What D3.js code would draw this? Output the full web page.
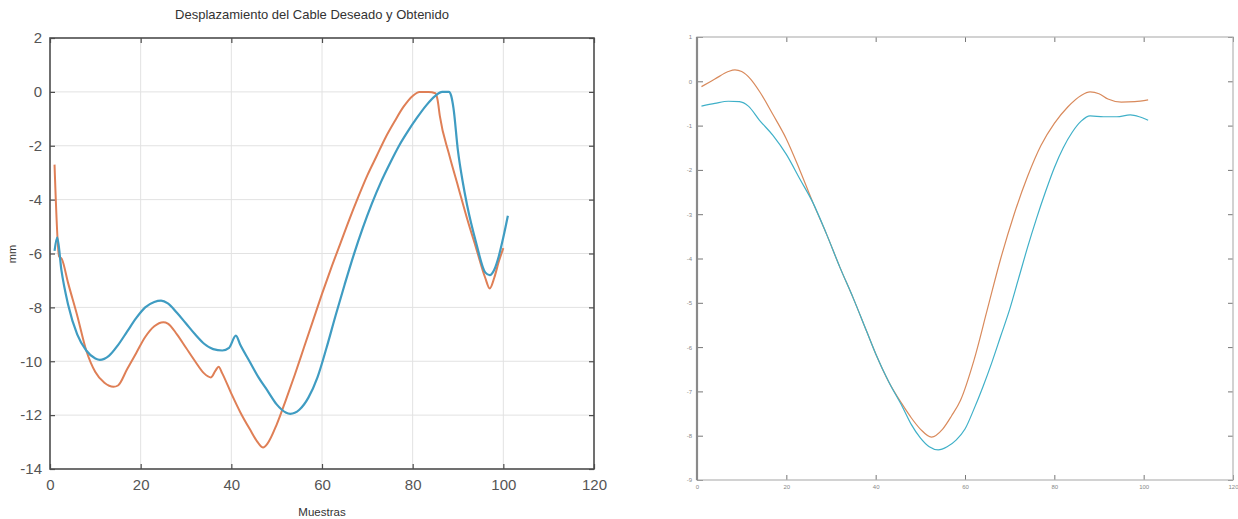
<!DOCTYPE html>
<html>
<head>
<meta charset="utf-8">
<script src="https://cdn.jsdelivr.net/npm/d3@7"></script>
<style>
  html, body { margin: 0; padding: 0; background: #fff; }
  svg { display: block; font-family: "Liberation Sans", Arial, sans-serif; }
</style>
</head>
<body>
<svg id="chart" width="1238" height="519"></svg>
<script>
// ---------- Left panel data ----------
const leftTitle = "Desplazamiento del Cable Deseado y Obtenido";
const leftXLabel = "Muestras";
const leftYLabel = "mm";
const leftXTicks = [0, 20, 40, 60, 80, 100, 120];
const leftYTicks = [2, 0, -2, -4, -6, -8, -10, -12, -14];

// Desired (orange)
const leftOrangeX = [1, 2, 2.6, 4, 6, 8, 10, 12, 14, 15, 17, 19, 21, 23, 25, 26, 28, 30, 32, 34, 35.5, 36.5, 37.2, 38, 40, 42, 44, 46, 47, 48, 50, 52, 54, 56, 58, 60, 62, 64, 66, 68, 70, 72, 74, 76, 78, 80, 81.5, 83.5, 85, 85.5, 86, 88, 90, 92, 94, 96, 97, 98, 99, 100];
const leftOrangeY = [-2.7, -6.1, -6.2, -7.1, -8.3, -9.6, -10.4, -10.8, -10.95, -10.9, -10.3, -9.7, -9.1, -8.7, -8.55, -8.6, -9.0, -9.5, -10.0, -10.45, -10.6, -10.35, -10.2, -10.45, -11.2, -11.9, -12.5, -13.05, -13.2, -13.05, -12.35, -11.45, -10.5, -9.5, -8.5, -7.5, -6.55, -5.65, -4.75, -3.9, -3.1, -2.4, -1.7, -1.1, -0.55, -0.15, 0, 0, -0.05, -0.3, -0.9, -2.3, -3.5, -4.7, -5.8, -6.9, -7.3, -6.9, -6.3, -5.8];

// Obtained (blue)
const leftBlueX = [1, 1.6, 2.5, 4, 6, 8, 10, 11, 13, 15, 17, 19, 21, 23, 24.5, 26, 28, 30, 32, 34, 36, 38, 39.5, 41, 42, 44, 46, 48, 50, 52, 53, 55, 57, 59, 61, 63, 65, 67, 69, 71, 73, 75, 77, 79, 81, 83, 85, 86.5, 88, 88.5, 89, 90, 91, 92, 94, 96, 97, 98, 99, 100, 101];
const leftBlueY = [-5.9, -5.4, -6.6, -7.9, -9.0, -9.6, -9.9, -9.95, -9.8, -9.4, -8.9, -8.4, -8.0, -7.8, -7.75, -7.85, -8.2, -8.6, -9.0, -9.35, -9.55, -9.6, -9.5, -9.05, -9.4, -10.0, -10.6, -11.1, -11.6, -11.9, -11.95, -11.8, -11.35, -10.6, -9.5, -8.3, -7.15, -6.05, -5.05, -4.15, -3.35, -2.65, -2.0, -1.45, -0.95, -0.5, -0.15, 0, 0, -0.15, -0.6, -2.2, -3.3, -4.2, -5.6, -6.7, -6.8, -6.6, -6.1, -5.4, -4.6];

// ---------- Right panel data ----------
const rightXTicks = [0, 20, 40, 60, 80, 100, 120];
const rightYTicks = [1, 0, -1, -2, -3, -4, -5, -6, -7, -8, -9];

const rightOrangeX = [1, 4, 7, 8.5, 10, 12, 14, 17, 20, 23, 26, 29, 32, 35, 38, 40, 43, 46, 48, 50, 52.5, 55, 57, 59, 62, 65, 68, 71, 74, 77, 80, 83, 86, 88, 90, 92, 95, 98, 101];
const rightOrangeY = [-0.12, 0.05, 0.22, 0.26, 0.22, 0.05, -0.23, -0.75, -1.3, -2.0, -2.75, -3.45, -4.2, -4.9, -5.65, -6.15, -6.8, -7.3, -7.6, -7.85, -8.03, -7.85, -7.55, -7.2, -6.3, -5.15, -4.0, -3.0, -2.15, -1.45, -0.95, -0.58, -0.32, -0.24, -0.28, -0.4, -0.47, -0.46, -0.42];

const rightBlueX = [1, 4, 7, 9.5, 11.5, 14, 17, 20, 23, 26, 29, 32, 35, 38, 40, 43, 46, 48, 50, 52, 54, 56, 58, 60, 62, 64, 66, 68, 70, 72, 74, 76, 78, 80, 82, 84, 86, 88, 91, 94, 97, 99, 101];
const rightBlueY = [-0.56, -0.5, -0.45, -0.46, -0.56, -0.88, -1.22, -1.65, -2.2, -2.75, -3.45, -4.2, -4.9, -5.65, -6.15, -6.8, -7.35, -7.75, -8.05, -8.25, -8.32, -8.25, -8.1, -7.85, -7.4, -6.9, -6.35, -5.75, -5.15, -4.45, -3.75, -3.1, -2.5, -1.95, -1.5, -1.15, -0.9, -0.78, -0.8, -0.8, -0.76, -0.8, -0.88];

// ---------- Drawing ----------
const svg = d3.select("#chart");
const zip = (xs, ys) => xs.map((x, i) => [x, ys[i]]);
const plain = d => String(d);

// Left panel
(function () {
  const L = { left: 50, right: 594, top: 38, bottom: 469 };
  const x = d3.scaleLinear().domain([0, 120]).range([L.left, L.right]);
  const y = d3.scaleLinear().domain([-14, 2]).range([L.bottom, L.top]);
  const g = svg.append("g");
  const axisColor = "#4d4d4d";

  // grid
  g.append("g").selectAll("line").data(leftXTicks.slice(1, -1)).join("line")
    .attr("x1", d => x(d)).attr("x2", d => x(d)).attr("y1", L.top).attr("y2", L.bottom)
    .attr("stroke", "#e2e2e2").attr("stroke-width", 1);
  g.append("g").selectAll("line").data(leftYTicks.slice(1, -1)).join("line")
    .attr("y1", d => y(d)).attr("y2", d => y(d)).attr("x1", L.left).attr("x2", L.right)
    .attr("stroke", "#e2e2e2").attr("stroke-width", 1);

  // axes with inward ticks
  const xAxisB = d3.axisBottom(x).tickValues(leftXTicks).tickSize(-5).tickPadding(10).tickFormat(plain);
  const xAxisT = d3.axisTop(x).tickValues(leftXTicks).tickSize(-5).tickFormat("");
  const yAxisL = d3.axisLeft(y).tickValues(leftYTicks).tickSize(-5).tickPadding(8).tickFormat(plain);
  const yAxisR = d3.axisRight(y).tickValues(leftYTicks).tickSize(-5).tickFormat("");

  const style = sel => {
    sel.selectAll("path.domain").remove();
    sel.selectAll(".tick line").attr("stroke", axisColor).attr("stroke-width", 1.2);
    sel.selectAll(".tick text").attr("fill", "#555").style("font-size", "15px")
      .style("font-family", "'Liberation Sans', Arial, sans-serif");
  };
  g.append("g").attr("transform", `translate(0,${L.bottom})`).call(xAxisB).call(style);
  g.append("g").attr("transform", `translate(0,${L.top})`).call(xAxisT).call(style);
  g.append("g").attr("transform", `translate(${L.left},0)`).call(yAxisL).call(style);
  g.append("g").attr("transform", `translate(${L.right},0)`).call(yAxisR).call(style);
  g.append("rect").attr("x", L.left).attr("y", L.top).attr("width", L.right - L.left).attr("height", L.bottom - L.top)
    .attr("fill", "none").attr("stroke", axisColor).attr("stroke-width", 1.6);

  const line = d3.line().x(d => x(d[0])).y(d => y(d[1])).curve(d3.curveMonotoneX);
  g.append("path").datum(zip(leftOrangeX, leftOrangeY)).attr("d", line)
    .attr("fill", "none").attr("stroke", "#df7f56").attr("stroke-width", 2);
  g.append("path").datum(zip(leftBlueX, leftBlueY)).attr("d", line)
    .attr("fill", "none").attr("stroke", "#3f9cc2").attr("stroke-width", 2.2);

  g.append("text").attr("x", 312).attr("y", 19).attr("text-anchor", "middle")
    .style("font-size", "13px").attr("fill", "#333").text(leftTitle);
  g.append("text").attr("x", 322).attr("y", 516).attr("text-anchor", "middle")
    .style("font-size", "11.5px").attr("fill", "#333").text(leftXLabel);
  g.append("text").attr("transform", "translate(16,254) rotate(-90)").attr("text-anchor", "middle")
    .style("font-size", "11px").attr("fill", "#333").text(leftYLabel);
})();

// Right panel
(function () {
  const R = { left: 697, right: 1233, top: 37, bottom: 480 };
  const x = d3.scaleLinear().domain([0, 120]).range([R.left, R.right]);
  const y = d3.scaleLinear().domain([-9, 1]).range([R.bottom, R.top]);
  const g = svg.append("g");
  const axisColor = "#8a8a8a";

  const style = sel => {
    sel.selectAll("path.domain").remove();
    sel.selectAll(".tick line").attr("stroke", "#777").attr("stroke-width", 1);
    sel.selectAll(".tick text").attr("fill", "#888").style("font-size", "6px");
  };
  g.append("g").attr("transform", `translate(0,${R.bottom})`)
    .call(d3.axisBottom(x).tickValues(rightXTicks).tickSize(-5).tickPadding(5).tickFormat(plain)).call(style);
  g.append("g").attr("transform", `translate(0,${R.top})`)
    .call(d3.axisTop(x).tickValues(rightXTicks).tickSize(-5).tickFormat("")).call(style);
  g.append("g").attr("transform", `translate(${R.left},0)`)
    .call(d3.axisLeft(y).tickValues(rightYTicks).tickSize(-6).tickPadding(5).tickFormat(plain)).call(style);
  g.append("g").attr("transform", `translate(${R.right},0)`)
    .call(d3.axisRight(y).tickValues(rightYTicks).tickSize(-5).tickFormat("")).call(style);

  g.append("rect").attr("x", R.left).attr("y", R.top).attr("width", R.right - R.left).attr("height", R.bottom - R.top)
    .attr("fill", "none").attr("stroke", "#b5b5b5").attr("stroke-width", 1.2);
  g.append("line").attr("x1", R.left).attr("x2", R.left).attr("y1", R.top).attr("y2", R.bottom)
    .attr("stroke", axisColor).attr("stroke-width", 2.2);

  const line = d3.line().x(d => x(d[0])).y(d => y(d[1])).curve(d3.curveMonotoneX);
  g.append("path").datum(zip(rightOrangeX, rightOrangeY)).attr("d", line)
    .attr("fill", "none").attr("stroke", "#d98a5c").attr("stroke-width", 1.2);
  g.append("path").datum(zip(rightBlueX, rightBlueY)).attr("d", line)
    .attr("fill", "none").attr("stroke", "#3fb0c8").attr("stroke-width", 1.2);
})();
</script>
</body>
</html>
